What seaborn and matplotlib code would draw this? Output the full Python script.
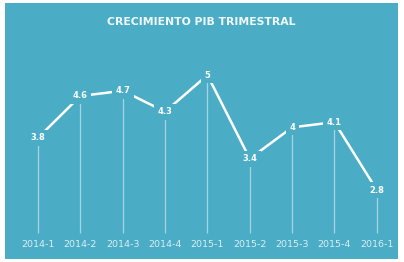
import matplotlib
matplotlib.use("Agg")
import matplotlib.pyplot as plt
import seaborn as sns
import pandas as pd

# quarterly GDP growth
quarters = ["2014-1", "2014-2", "2014-3", "2014-4", "2015-1",
            "2015-2", "2015-3", "2015-4", "2016-1"]
growth = [3.8, 4.6, 4.7, 4.3, 5, 3.4, 4, 4.1, 2.8]
labels = ["3.8", "4.6", "4.7", "4.3", "5", "3.4", "4", "4.1", "2.8"]

bg = "#4BACC6"
sns.set_style("white")
plt.rcParams['font.family'] = ['DejaVu Sans']

df = pd.DataFrame({"pos": range(len(quarters)), "growth": growth})

fig = plt.figure(figsize=(4.04, 2.62), dpi=100)
fig.patch.set_facecolor("white")
ax = fig.add_axes([5/404, 3/262, 393/404, 256/262])
ax.set_facecolor(bg)

# drop lines from each point to the bottom
ax.vlines(df["pos"], 1.98, df["growth"], color="white", alpha=0.5, lw=0.9, zorder=1)

sns.lineplot(data=df, x="pos", y="growth", ax=ax, color="white", lw=1.8, zorder=2)

for x, y, t in zip(df["pos"], df["growth"], labels):
    ax.text(x, y, t, ha="center", va="center", color="white", fontsize=6,
            fontweight="bold", zorder=3,
            bbox=dict(facecolor=bg, edgecolor="none", pad=2.5))

ax.set_xlim(-0.78, 8.5)
ax.set_ylim(1.48, 6.38)
ax.set_xticks(df["pos"])
ax.set_xticklabels(quarters)
ax.tick_params(axis="x", length=0, pad=-13.5, labelsize=6.8, labelcolor=(1, 1, 1, 0.8))
ax.set_yticks([])
ax.set_xlabel("")
ax.set_ylabel("")
for s in ax.spines.values():
    s.set_visible(False)

ax.text(0.5, 0.925, "CRECIMIENTO PIB TRIMESTRAL", transform=ax.transAxes,
        ha="center", va="center", color="#F0FAFC", fontsize=7.8, fontweight="bold")

fig.savefig("out.png", dpi=100, facecolor="white")
